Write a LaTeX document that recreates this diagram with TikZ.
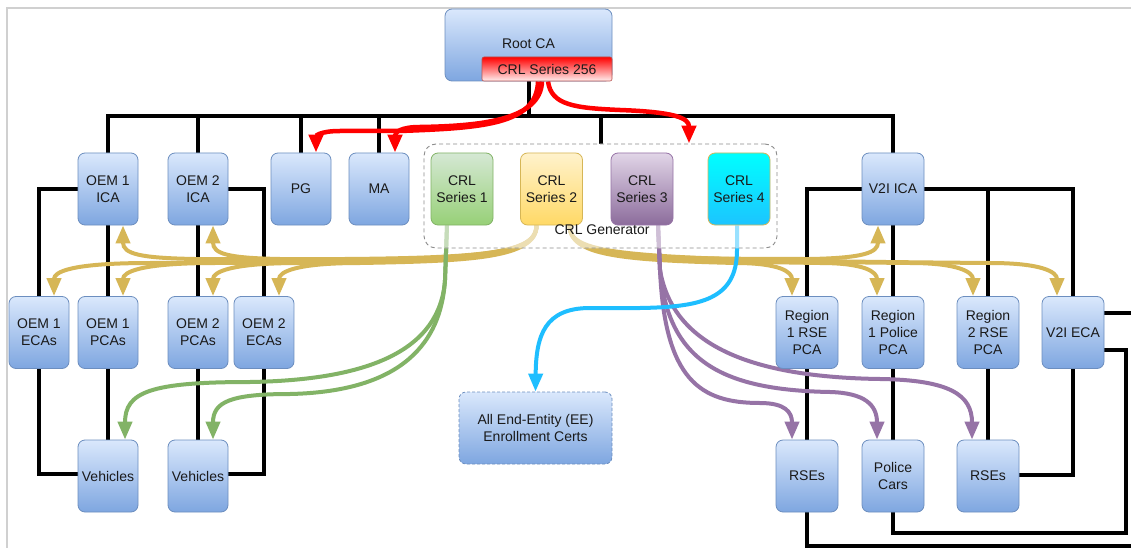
\documentclass[tikz,border=0pt]{standalone}
\usepackage{fontspec}
\setmainfont{Liberation Sans}
\usetikzlibrary{arrows.meta,calc}
\pgfdeclarelayer{paper}
\pgfdeclarelayer{lines}
\pgfdeclarelayer{veil}
\pgfsetlayers{paper,lines,veil,main}

\definecolor{txt}{HTML}{1A1A1A}
\definecolor{frame}{HTML}{D0D0D0}
\definecolor{bluetop}{HTML}{DAE8FC}
\definecolor{bluebot}{HTML}{7EA6E0}
\definecolor{bluestroke}{HTML}{6C8EBF}
\definecolor{greentop}{HTML}{D5E8D4}
\definecolor{greenbot}{HTML}{97D077}
\definecolor{greenstroke}{HTML}{82B366}
\definecolor{yellowtop}{HTML}{FFF2CC}
\definecolor{yellowbot}{HTML}{FFD966}
\definecolor{yellowstroke}{HTML}{D6B656}
\definecolor{purpletop}{HTML}{E1D5E7}
\definecolor{purplebot}{HTML}{8C6C9C}
\definecolor{purplestroke}{HTML}{9673A6}
\definecolor{cyantop}{HTML}{00FFFF}
\definecolor{cyanbot}{HTML}{1CC4FF}
\definecolor{goldline}{HTML}{D6B656}
\definecolor{greenline}{HTML}{82B366}
\definecolor{purpleline}{HTML}{9673A6}
\definecolor{cyanline}{HTML}{1EBEFF}
\definecolor{redline}{HTML}{FF0000}
\definecolor{redstroke}{HTML}{B85450}
\definecolor{genstroke}{HTML}{8C8C8C}

\begin{document}
\begin{tikzpicture}[x=1pt,y=-1pt,
  every node/.style={font=\fontsize{14}{17}\selectfont, text=txt, align=center, inner sep=0pt},
  card/.style={rounded corners=7pt, line width=0.8pt, minimum width=60pt, minimum height=72pt},
  bluecard/.style={card, draw=bluestroke, top color=bluetop, bottom color=bluebot},
  greencard/.style={card, minimum width=62pt, draw=greenstroke, top color=greentop, bottom color=greenbot},
  yellowcard/.style={card, minimum width=62pt, draw=yellowstroke, top color=yellowtop, bottom color=yellowbot},
  purplecard/.style={card, minimum width=62pt, draw=purplestroke, top color=purpletop, bottom color=purplebot},
  cyancard/.style={card, minimum width=62pt, draw=yellowstroke, top color=cyantop, bottom color=cyanbot},
  redbar/.style={rounded corners=2pt, line width=0.6pt, draw=redstroke, top color=redline, bottom color=redline!6, minimum width=130pt, minimum height=24pt},
  genbox/.style={rounded corners=12pt, draw=genstroke, line width=0.9pt, dash pattern=on 4pt off 3pt, minimum width=353pt, minimum height=104pt},
  wire/.style={line width=4pt, draw=black, line join=miter},
  flow/.style={line width=4pt, -{Triangle[width=14pt,length=18pt]}},
  goldflow/.style={flow, draw=goldline},
  greenflow/.style={flow, draw=greenline},
  purpleflow/.style={flow, draw=purpleline},
  cyanflow/.style={flow, draw=cyanline},
  redflow/.style={flow, line width=4.5pt, draw=redline},
]
\useasboundingbox (0,0) rectangle (1131,548);
\begin{pgfonlayer}{paper}
  \fill[white] (0,0) rectangle (1131,548);
  % outer frame
  \draw[frame, line width=1.5pt] (7,548) -- (7,8) -- (1131,8);
\end{pgfonlayer}

% root and its CRL
\node[bluecard, minimum width=167pt] (root) at (528.5,45) {\raisebox{2pt}{Root CA}};
\node[redbar] (crl256) at (547,69) {CRL Series 256};

% first tier
\node[bluecard] (oem1ica) at (108,189) {OEM 1\\ICA};
\node[bluecard] (oem2ica) at (198,189) {OEM 2\\ICA};
\node[bluecard] (pg) at (301,189) {PG};
\node[bluecard] (ma) at (379,189) {MA};
\node[bluecard, minimum width=62pt] (v2iica) at (893,189) {V2I ICA};

% CRL generator group
\node[genbox] (gen) at (600.5,196) {};
\node[greencard] (s1) at (462,189) {CRL\\Series 1};
\node[yellowcard] (s2) at (551.5,189) {CRL\\Series 2};
\node[purplecard] (s3) at (642,189) {CRL\\Series 3};
\node[cyancard] (s4) at (739,189) {CRL\\Series 4};
\node (genlabel) at (602,230) {CRL Generator};

% second tier
\node[bluecard] (oem1eca) at (39,332.5) {OEM 1\\ECAs};
\node[bluecard] (oem1pca) at (108,332.5) {OEM 1\\PCAs};
\node[bluecard] (oem2pca) at (198,332.5) {OEM 2\\PCAs};
\node[bluecard] (oem2eca) at (264,332.5) {OEM 2\\ECAs};
\node[bluecard, minimum width=62pt] (r1rse) at (807,332.5) {Region\\1 RSE\\PCA};
\node[bluecard, minimum width=62pt] (r1pol) at (893,332.5) {Region\\1 Police\\PCA};
\node[bluecard, minimum width=62pt] (r2rse) at (988,332.5) {Region\\2 RSE\\PCA};
\node[bluecard, minimum width=62pt] (v2ieca) at (1073,332.5) {V2I ECA};

% end entities
\node[bluecard] (veh1) at (108,476) {Vehicles};
\node[bluecard] (veh2) at (198,476) {Vehicles};
\node[bluecard, minimum width=153pt, dash pattern=on 3pt off 2pt] (ee) at (535.5,428) {All End-Entity (EE)\\Enrollment Certs};
\node[bluecard, minimum width=62pt] (rse1) at (807,476) {RSEs};
\node[bluecard, minimum width=62pt] (pol) at (893,476) {Police\\Cars};
\node[bluecard, minimum width=62pt] (rse2) at (988,476) {RSEs};

% helper points
\coordinate (bus) at (528.5,116);
\coordinate (loopR) at (1126,533);
\coordinate (edgeA) at (1131,313);
\coordinate (edgeB) at (1131,546);
\coordinate (L0) at ([xshift=-15pt]s2.south);
\coordinate (R0) at ([xshift=18pt]s2.south);
\coordinate (G0) at ([xshift=-15pt]s1.south);
\coordinate (P0) at ([xshift=16pt]s3.south);
\coordinate (C0) at ([xshift=-2pt]s4.south);

% white veil over the lines inside the generator group
\begin{pgfonlayer}{veil}
  \fill[white, fill opacity=0.55, rounded corners=12pt] (gen.south west) rectangle (gen.north east);
\end{pgfonlayer}

\begin{pgfonlayer}{lines}
% certificate hierarchy
\draw[wire] (oem1ica.north) |- (bus) -| (v2iica.north);
\draw[wire] (root.south) -- (bus);
\draw[wire] (oem2ica.north) -- (oem2ica.north |- bus);
\draw[wire] (pg.north) -- (pg.north |- bus);
\draw[wire] (ma.north) -- (ma.north |- bus);
\draw[wire] (gen.north) -- (gen.north |- bus);

\draw[wire] (oem1ica.west) -| (oem1eca.north);
\draw[wire] (oem1ica.south) -- (oem1pca.north);
\draw[wire] (oem1eca.south) |- ([yshift=2pt]veh1.west);
\draw[wire] (oem1pca.south) -- (veh1.north);
\draw[wire] (oem2ica.south) -- (oem2pca.north);
\draw[wire] (oem2ica.east) -| (oem2eca.north);
\draw[wire] (oem2pca.south) -- (veh2.north);
\draw[wire] (oem2eca.south) |- ([yshift=2pt]veh2.east);

\draw[wire] (v2iica.west) -| (r1rse.north);
\draw[wire] (v2iica.south) -- (r1pol.north);
\draw[wire] (v2iica.east) -| (v2ieca.north);
\draw[wire] (r2rse.north) -- (r2rse.north |- v2iica.east);
\draw[wire] (r1rse.south) -- (rse1.north);
\draw[wire] (r1pol.south) -- (pol.north);
\draw[wire] (r2rse.south) -- (rse2.north);
\draw[wire] (v2ieca.south) |- ([yshift=1pt]rse2.east);
\draw[wire] ([yshift=-17.5pt]v2ieca.east) -| (loopR) -| (pol.south);
\draw[wire] ([yshift=19.5pt]v2ieca.east) -- (edgeA);
\draw[wire] (rse1.south) |- (edgeB);

% CRL Series 2 to the certificate authorities (left)
\draw[goldflow] (L0) .. controls +(0,33) and (470,261) .. (360,263) .. controls (295,263) and (279,272) .. ([xshift=15pt]oem2eca.north);
\draw[goldflow] (L0) .. controls +(0,33) and (470,261) .. (300,263) .. controls (230,263) and (213,272) .. ([xshift=15pt]oem2pca.north);
\draw[goldflow] (L0) .. controls +(0,33) and (470,261) .. (215,263) .. controls (140,263) and (123,272) .. ([xshift=15pt]oem1pca.north);
\draw[goldflow] (L0) .. controls +(0,33) and (470,261) .. (150,263) .. controls (70,263) and (54,272) .. ([xshift=15pt]oem1eca.north);
\draw[goldflow] (L0) .. controls +(0,33) and (470,260) .. (280,259) .. controls (228,258) and (213,254) .. ([xshift=15pt]oem2ica.south);
\draw[goldflow] (L0) .. controls +(0,33) and (470,260) .. (195,259) .. controls (140,258) and (123,254) .. ([xshift=15pt]oem1ica.south);

% CRL Series 2 to the certificate authorities (right)
\draw[goldflow] (R0) .. controls +(0,30) and (620,260) .. (735,263) .. controls (780,263) and (792,272) .. ([xshift=-15pt]r1rse.north);
\draw[goldflow] (R0) .. controls +(0,30) and (620,260) .. (820,263) .. controls (865,263) and (877,272) .. ([xshift=-16pt]r1pol.north);
\draw[goldflow] (R0) .. controls +(0,30) and (620,260) .. (910,263) .. controls (958,263) and (973,272) .. ([xshift=-15pt]r2rse.north);
\draw[goldflow] (R0) .. controls +(0,30) and (620,260) .. (990,263) .. controls (1042,263) and (1057,272) .. ([xshift=-16pt]v2ieca.north);
\draw[goldflow] (R0) .. controls +(0,30) and (620,259) .. (810,259) .. controls (862,258) and (878,253) .. ([xshift=-15pt]v2iica.south);

% CRL Series 1 to vehicles
\draw[greenflow] (G0) -- (445,280) .. controls (440,350) and (370,380) .. (250,382) .. controls (150,382) and (125,392) .. ([xshift=17pt]veh1.north);
\draw[greenflow] (G0) -- (445,280) .. controls (440,360) and (380,392) .. (290,394) .. controls (230,394) and (213,402) .. ([xshift=15pt]veh2.north);

% CRL Series 3 to RSEs and police cars
\draw[purpleflow] (P0) -- (660,270) .. controls (665,380) and (700,403) .. (760,403) .. controls (785,403) and (792,412) .. ([xshift=-15pt]rse1.north);
\draw[purpleflow] (P0) -- (660,270) .. controls (668,360) and (720,390) .. (830,392) .. controls (865,393) and (877,405) .. ([xshift=-16pt]pol.north);
\draw[purpleflow] (P0) -- (660,270) .. controls (672,340) and (740,377) .. (880,379) .. controls (950,380) and (972,395) .. ([xshift=-16pt]rse2.north);

% CRL Series 4 to enrollment certificates
\draw[cyanflow] (C0) -- (737,250) .. controls (737,300) and (700,307) .. (640,308) -- (590,308) .. controls (545,308) and (536,335) .. (ee.north);

% Root CRL to PG, MA and the generator
\draw[redflow] ([xshift=-9pt]crl256.south) .. controls +(-1,44) and (480,128) .. (400,131) -- (340,131) .. controls (320,131) and (316,136) .. ([xshift=15pt]pg.north);
\draw[redflow] ([xshift=-5pt]crl256.south) .. controls +(-1,39) and (480,126) .. (420,127) .. controls (401,127) and (395,132) .. ([xshift=16pt]ma.north);
\draw[redflow] ([xshift=1pt]crl256.south) .. controls +(3,24) and (575,108) .. (620,110) .. controls (675,112) and (689,118) .. ([xshift=88.5pt]gen.north);
\end{pgfonlayer}
\end{tikzpicture}
\end{document}
